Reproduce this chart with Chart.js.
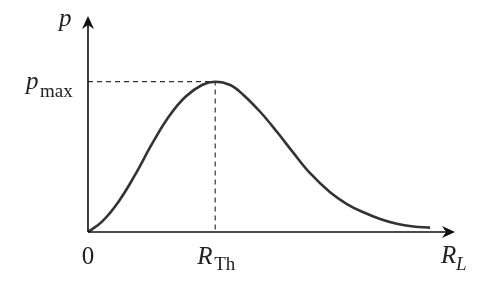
<!DOCTYPE html>
<html>
<head>
    <title>Power vs load resistance</title>
    <script src="https://cdn.jsdelivr.net/npm/chart.js"></script>
    <style>
        body { margin: 0; background: #fff; }
    </style>
</head>
<body>
    <canvas id="powerChart" width="487" height="293"></canvas>
    <script>
        // curve (x in units of R_Th, y in units of p_max)
        const rl = [0, 0.110, 0.240, 0.372, 0.503, 0.633, 0.764, 0.896, 1.0, 1.118, 1.222, 1.353, 1.485, 1.615, 1.746, 1.903, 2.035, 2.165, 2.296, 2.427, 2.558, 2.689];
        const power = [0, 0.069, 0.202, 0.383, 0.586, 0.765, 0.898, 0.978, 1.0, 0.978, 0.912, 0.800, 0.667, 0.526, 0.391, 0.264, 0.186, 0.131, 0.087, 0.055, 0.037, 0.029];
        const rTh = 1.0;
        const pMax = 1.0;
        const xMax = 2.885;
        const yMax = 1.437;

        const curve = rl.map((x, i) => ({ x: x, y: power[i] }));
        const SERIF = '"Liberation Serif", "Times New Roman", Times, serif';

        function arrowHead(ctx, x, y, dir) {
            ctx.save();
            ctx.translate(x, y);
            if (dir === 'up') ctx.rotate(-Math.PI / 2);
            ctx.beginPath();
            ctx.moveTo(0, 0);
            ctx.lineTo(-13, -6);
            ctx.lineTo(-9, 0);
            ctx.lineTo(-13, 6);
            ctx.closePath();
            ctx.fillStyle = '#111';
            ctx.fill();
            ctx.restore();
        }

        const axesPlugin = {
            id: 'axesPlugin',
            afterDraw(chart) {
                const ctx = chart.ctx;
                const xs = chart.scales.x, ys = chart.scales.y;
                const x0 = xs.getPixelForValue(0), y0 = ys.getPixelForValue(0);
                const xEnd = xs.getPixelForValue(xMax), yEnd = ys.getPixelForValue(yMax);

                ctx.save();
                ctx.strokeStyle = '#111';
                ctx.lineWidth = 1.6;
                ctx.beginPath();
                ctx.moveTo(x0, y0);
                ctx.lineTo(xEnd - 4, y0);
                ctx.moveTo(x0, y0);
                ctx.lineTo(x0, yEnd + 4);
                ctx.stroke();
                arrowHead(ctx, xEnd, y0, 'right');
                arrowHead(ctx, x0, yEnd, 'up');

                ctx.fillStyle = '#222';
                ctx.textBaseline = 'alphabetic';
                const main = 'italic 25px ' + SERIF;
                const sub = '19px ' + SERIF;
                const subIt = 'italic 19px ' + SERIF;

                // y axis name
                ctx.font = main;
                ctx.textAlign = 'left';
                ctx.fillText('p', 59, 26);

                // p_max
                const yPm = ys.getPixelForValue(pMax);
                ctx.font = main;
                ctx.fillText('p', 26, yPm + 7);
                ctx.font = sub;
                ctx.fillText('max', 40, yPm + 15);

                // 0
                ctx.font = '25px ' + SERIF;
                ctx.textAlign = 'center';
                ctx.fillText('0', x0, y0 + 32);

                // R_Th
                const xTh = xs.getPixelForValue(rTh);
                ctx.textAlign = 'left';
                ctx.font = main;
                ctx.fillText('R', xTh - 18, y0 + 32);
                ctx.font = sub;
                ctx.fillText('Th', xTh - 1, y0 + 38);

                // R_L
                ctx.font = main;
                ctx.fillText('R', 441, y0 + 31);
                ctx.font = subIt;
                ctx.fillText('L', 456, y0 + 38);
                ctx.restore();
            }
        };

        function draw() {
            const ctx = document.getElementById('powerChart').getContext('2d');
            new Chart(ctx, {
                type: 'scatter',
                data: {
                    datasets: [
                        {
                            label: 'p',
                            data: curve,
                            showLine: true,
                            borderColor: '#333',
                            borderWidth: 2.6,
                            pointRadius: 0,
                            tension: 0.4,
                            fill: false
                        },
                        {
                            label: 'pmax guide',
                            data: [{ x: 0, y: pMax }, { x: rTh, y: pMax }, { x: rTh, y: 0 }],
                            showLine: true,
                            borderColor: '#333',
                            borderWidth: 1.2,
                            borderDash: [5, 4],
                            pointRadius: 0,
                            tension: 0
                        }
                    ]
                },
                options: {
                    responsive: false,
                    animation: false,
                    events: [],
                    clip: false,
                    layout: { padding: { left: 88, right: 32, top: 16, bottom: 61 } },
                    plugins: {
                        legend: { display: false },
                        tooltip: { enabled: false }
                    },
                    scales: {
                        x: { type: 'linear', min: 0, max: xMax, display: false },
                        y: { type: 'linear', min: 0, max: yMax, display: false }
                    }
                },
                plugins: [axesPlugin]
            });
        }

        Promise.all([
            document.fonts.load('italic 25px "Liberation Serif"'),
            document.fonts.load('19px "Liberation Serif"')
        ]).then(draw, draw);
    </script>
</body>
</html>
